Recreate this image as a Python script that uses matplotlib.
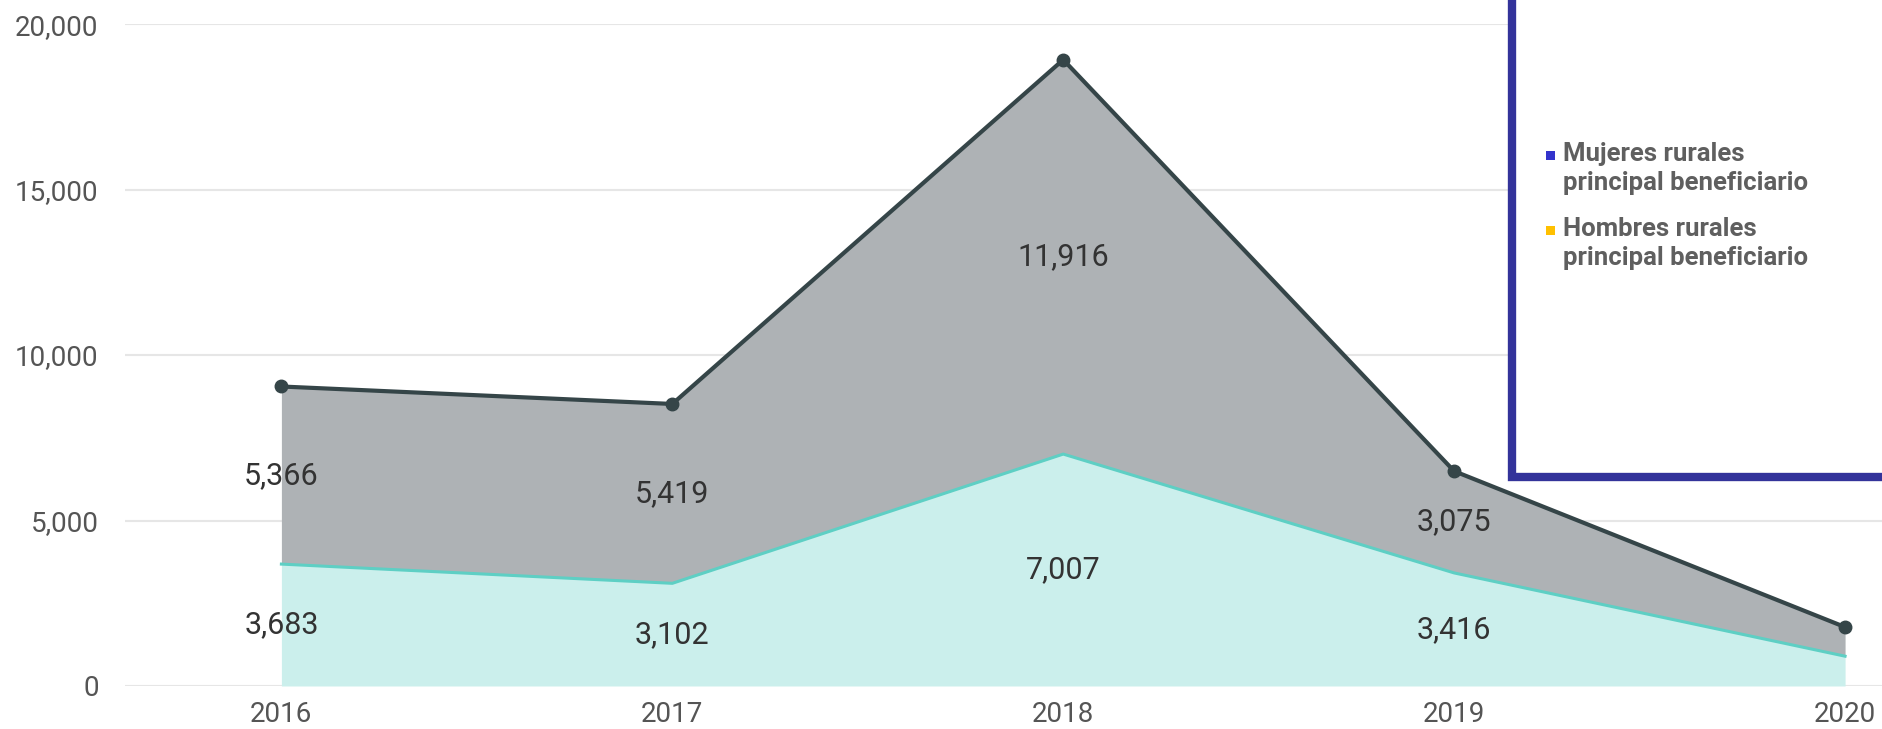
import matplotlib.pyplot as plt
from matplotlib.patches import Rectangle

years = [2016, 2017, 2018, 2019, 2020]
hombres = [3683, 3102, 7007, 3416, 900]
mujeres = [5366, 5419, 11916, 3075, 880]
show_label = [True, True, True, True, False]

legend_labels = ['Mujeres rurales\nprincipal beneficiario',
                 'Hombres rurales\nprincipal beneficiario']
legend_colors = ['#3333CC', '#FFC000']

yticks = [0, 5000, 10000, 15000, 20000]


def main():
    plt.rcParams['font.family'] = ['Roboto', 'DejaVu Sans']
    fig = plt.figure(figsize=(18.83, 7.29), dpi=100)
    ax = fig.add_axes([0.0664, 0.059, 0.9336, 0.908])

    total = [h + m for h, m in zip(hombres, mujeres)]

    ax.fill_between(years, 0, hombres, color='#CBEFEC', lw=0, zorder=2)
    ax.fill_between(years, hombres, total, color='#AEB2B5', lw=0, zorder=2)
    ax.plot(years, hombres, color='#5ECFC4', lw=2.2, zorder=3)
    ax.plot(years, total, color='#354548', lw=3, marker='o', markersize=9, zorder=4)

    for x, h, m, s in zip(years, hombres, mujeres, show_label):
        if not s:
            continue
        ax.text(x, h / 2, f'{h:,}', ha='center', va='center', fontsize=22, color='#333333', zorder=5)
        ax.text(x, h + m / 2, f'{m:,}', ha='center', va='center', fontsize=22, color='#333333', zorder=5)

    ax.set_xlim(2015.6, 2020.097)
    ax.set_ylim(0, 20000)
    ax.set_yticks(yticks)
    ax.set_yticklabels([f'{v:,}' for v in yticks])
    ax.set_xticks(years)
    ax.set_xticklabels([str(y) for y in years])
    ax.tick_params(axis='both', length=0, labelsize=20, labelcolor='#555555')
    ax.tick_params(axis='y', pad=19)
    ax.tick_params(axis='x', pad=11)
    for sp in ax.spines.values():
        sp.set_visible(False)
    ax.grid(axis='y', color='#E6E6E6', lw=1.5, zorder=1)
    ax.set_axisbelow(True)

    # legend box
    fig.patches.append(Rectangle((1512 / 1883, 252 / 729), 0.3, 0.7, transform=fig.transFigure,
                                 facecolor='white', edgecolor='#33339A', lw=6, zorder=10))
    ys = [155, 230]
    for lab, col, y in zip(legend_labels, legend_colors, ys):
        fig.patches.append(Rectangle((1546 / 1883, (729 - y - 5) / 729), 9 / 1883, 9 / 729,
                                     transform=fig.transFigure, facecolor=col, lw=0, zorder=11))
        fig.text(1563 / 1883, (729 - y + 13) / 729, lab, ha='left', va='top', fontsize=18.5,
                 fontweight='bold', color='#5F5F5F', linespacing=1.25, zorder=12)

    fig.savefig('out.png', dpi=100)


if __name__ == '__main__':
    main()
